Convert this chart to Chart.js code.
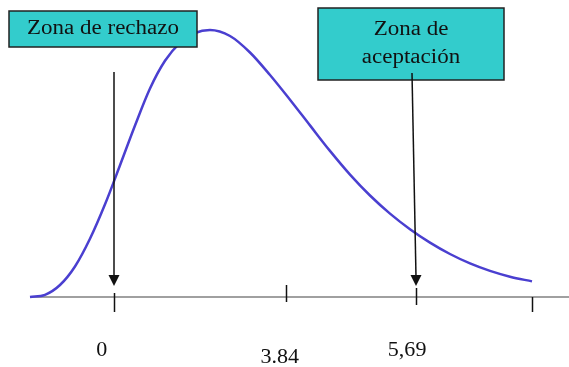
<!DOCTYPE html>
<html>
<head>
<meta charset="utf-8">
<script src="https://cdn.jsdelivr.net/npm/chart.js@4"></script>
<style>
  html, body { margin: 0; padding: 0; background: #ffffff; }
  #wrap { width: 569px; height: 367px; }
</style>
</head>
<body>
<div id="wrap"><canvas id="c" width="569" height="367"></canvas></div>
<script>
// Density curve sampled along the horizontal axis (axis units 0..110)
const curveX = [0, 3.06, 6.12, 9.18, 12.24, 15.31, 18.37, 21.43, 24.49, 27.55, 30.61, 33.67, 36.73, 40.82, 44.90, 48.98, 53.06, 57.14, 61.22, 65.31, 69.39, 73.47, 77.55, 81.63, 85.71, 89.80, 93.88, 97.96, 102.45];
const curveY = [0, 0.81, 4.44, 11.30, 21.56, 34.33, 48.78, 63.52, 77.22, 87.48, 94.15, 97.78, 98.89, 96.67, 90.56, 82.22, 73.07, 63.56, 54.11, 45.33, 37.59, 30.89, 25.11, 20.15, 15.93, 12.44, 9.67, 7.52, 5.78];

// Axis tick marks
const tickValues = [17.1, 52.2, 78.8, 102.4];
// Labelled ticks and their texts
const labelValues = [17.1, 52.2, 78.8];
const tickLabels = ['0', '3.84', '5,69'];

// Callout boxes and the axis value each one points to
const zoneTexts = [['Zona de rechazo'], ['Zona de', 'aceptación']];
const zoneTargets = [17.1, 78.8];

const points = curveX.map((x, i) => ({ x: x, y: curveY[i] }));

const serif = '"Liberation Serif", "DejaVu Serif", serif';

function arrow(ctx, x0, y0, x1, y1) {
  ctx.save();
  ctx.strokeStyle = '#111';
  ctx.fillStyle = '#111';
  ctx.lineWidth = 1.5;
  ctx.beginPath();
  ctx.moveTo(x0, y0);
  ctx.lineTo(x1, y1 - 9);
  ctx.stroke();
  ctx.beginPath();
  ctx.moveTo(x1, y1);
  ctx.lineTo(x1 - 5.5, y1 - 11);
  ctx.lineTo(x1 + 5.5, y1 - 11);
  ctx.closePath();
  ctx.fill();
  ctx.restore();
}

// Text drawn slightly widened, centred on (cx, cy)
function wideText(ctx, t, cx, cy, stretch) {
  ctx.save();
  ctx.translate(cx, cy);
  ctx.scale(stretch, 1);
  ctx.fillText(t, 0, 0);
  ctx.restore();
}

function box(ctx, x, y, w, h, lines, lineGap) {
  ctx.save();
  ctx.fillStyle = '#33cccc';
  ctx.fillRect(x, y, w, h);
  ctx.strokeStyle = '#222';
  ctx.lineWidth = 1.5;
  ctx.strokeRect(x, y, w, h);
  ctx.fillStyle = '#111';
  ctx.font = '20px ' + serif;
  ctx.textAlign = 'center';
  ctx.textBaseline = 'middle';
  const cy = y + h / 2 - (lines.length - 1) * lineGap / 2;
  lines.forEach((t, i) => wideText(ctx, t, x + w / 2, cy + i * lineGap, 1.15));
  ctx.restore();
}

const axisPlugin = {
  id: 'axisPlugin',
  beforeDatasetsDraw(chart) {
    const { ctx, scales: { x, y } } = chart;
    const y0 = y.getPixelForValue(0);
    ctx.save();
    ctx.strokeStyle = '#808080';
    ctx.lineWidth = 1.6;
    ctx.beginPath();
    ctx.moveTo(chart.chartArea.left, y0);
    ctx.lineTo(chart.width, y0);
    ctx.stroke();
    // tick marks, each with its own reach above/below the axis
    const reach = [[-4, 15], [-12, 5], [-9, 8], [0, 15]];
    ctx.strokeStyle = '#111';
    ctx.lineWidth = 1.5;
    tickValues.forEach((v, i) => {
      const px = Math.round(x.getPixelForValue(v)) + 0.5;
      ctx.beginPath();
      ctx.moveTo(px, y0 + reach[i][0]);
      ctx.lineTo(px, y0 + reach[i][1]);
      ctx.stroke();
    });
    // tick labels
    const offs = [[-12, 53], [-6, 60], [-9, 53]];
    ctx.fillStyle = '#111';
    ctx.font = '21px ' + serif;
    ctx.textAlign = 'center';
    ctx.textBaseline = 'middle';
    labelValues.forEach((v, i) => {
      wideText(ctx, tickLabels[i], x.getPixelForValue(v) + offs[i][0], y0 + offs[i][1], 1.05);
    });
    ctx.restore();
  },
  afterDatasetsDraw(chart) {
    const { ctx, scales: { x, y } } = chart;
    const tip = y.getPixelForValue(0) - 11;
    // rejection zone: arrow then box
    const lx = Math.round(x.getPixelForValue(zoneTargets[0]));
    arrow(ctx, lx, 72, lx, tip);
    box(ctx, 9, 11, 188, 36, zoneTexts[0], 0);
    // acceptance zone: box then arrow
    box(ctx, 318, 8, 186, 72, zoneTexts[1], 28);
    const rx = Math.round(x.getPixelForValue(zoneTargets[1]));
    arrow(ctx, rx - 4, 73, rx, tip);
  }
};

new Chart(document.getElementById('c'), {
  type: 'line',
  data: {
    datasets: [{
      data: points,
      borderColor: '#4a3fd0',
      borderWidth: 2.5,
      pointRadius: 0,
      fill: false,
      cubicInterpolationMode: 'monotone',
      clip: false
    }]
  },
  options: {
    responsive: false,
    animation: false,
    layout: { padding: { left: 30, right: 0, top: 27, bottom: 70 } },
    plugins: { legend: { display: false }, tooltip: { enabled: false } },
    scales: {
      x: { type: 'linear', min: 0, max: 110, display: false },
      y: { min: 0, max: 100, display: false }
    }
  },
  plugins: [axisPlugin]
});
</script>
</body>
</html>
